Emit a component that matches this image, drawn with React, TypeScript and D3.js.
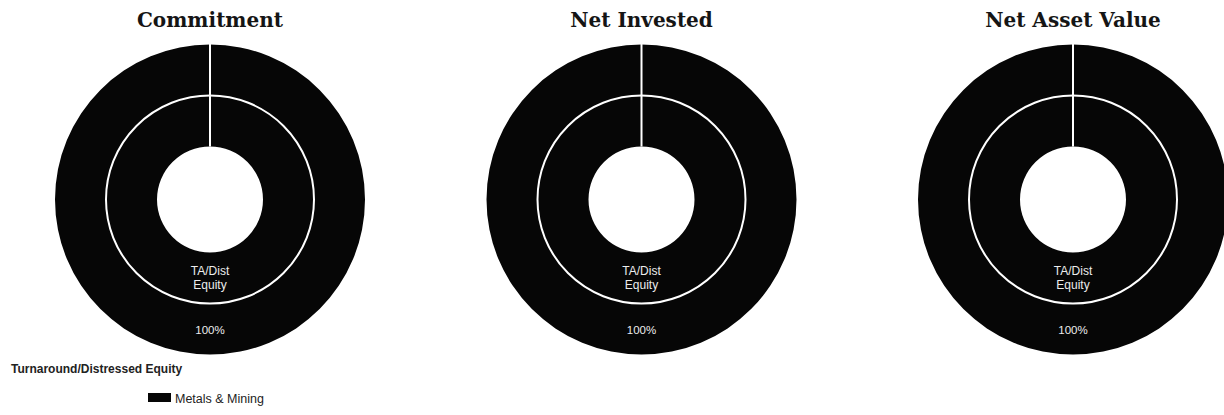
import { useEffect, useRef } from "react";
import * as d3 from "d3";

// panels across the top
const PANELS = ["Commitment", "Net Invested", "Net Asset Value"];

// inner ring: strategy split per panel (%)
const STRATEGIES = ["TA/Dist\nEquity"];
const STRATEGY_SHARE = [[100], [100], [100]];

// outer ring: sector split per panel (%)
const SECTORS = ["Metals & Mining"];
const SECTOR_SHARE = [[100], [100], [100]];

const LEGEND_GROUP = "Turnaround/Distressed Equity";

const W = 1224;
const H = 415;
const CY = 199.5;
const R_HOLE = 53;
const R_MID = 104;
const R_OUT = 155;
const INK = "#060606";

export default function App() {
  const svgRef = useRef<SVGSVGElement | null>(null);

  useEffect(() => {
    const svg = d3.select(svgRef.current);
    svg.selectAll("*").remove();

    const x = d3.scalePoint<string>().domain(PANELS).range([210, 1073]);
    const pie = d3.pie<number>().sort(null).value((d) => d);
    const innerArc = d3.arc<d3.PieArcDatum<number>>().innerRadius(R_HOLE).outerRadius(R_MID);
    const outerArc = d3.arc<d3.PieArcDatum<number>>().innerRadius(R_MID).outerRadius(R_OUT);

    PANELS.forEach((name, i) => {
      const g = svg.append("g").attr("transform", `translate(${x(name)},${CY})`);

      svg
        .append("text")
        .attr("x", x(name)!)
        .attr("y", 27)
        .attr("text-anchor", "middle")
        .attr("font-family", "DejaVu Serif")
        .attr("font-weight", "bold")
        .attr("font-size", 20)
        .attr("fill", "#151515")
        .text(name);

      const outer = pie(SECTOR_SHARE[i]);
      const inner = pie(STRATEGY_SHARE[i]);

      g.selectAll("path.outer")
        .data(outer)
        .join("path")
        .attr("class", "outer")
        .attr("d", outerArc)
        .attr("fill", INK);

      g.selectAll("path.inner")
        .data(inner)
        .join("path")
        .attr("class", "inner")
        .attr("d", innerArc)
        .attr("fill", INK);

      // ring separator
      g.append("circle")
        .attr("r", R_MID)
        .attr("fill", "none")
        .attr("stroke", "#fff")
        .attr("stroke-width", 2);

      // slice boundary at start angle
      inner.forEach((d) => {
        const a = d.startAngle;
        g.append("line")
          .attr("x1", Math.sin(a) * R_HOLE)
          .attr("y1", -Math.cos(a) * R_HOLE)
          .attr("x2", Math.sin(a) * (R_OUT + 1))
          .attr("y2", -Math.cos(a) * (R_OUT + 1))
          .attr("stroke", "#fff")
          .attr("stroke-width", 2);
      });

      inner.forEach((d, j) => {
        const [cx, cy] = innerArc.centroid(d);
        const lines = STRATEGIES[j].split("\n");
        const t = g
          .append("text")
          .attr("x", cx)
          .attr("y", cy - (lines.length - 1) * 7 + 4)
          .attr("text-anchor", "middle")
          .attr("font-family", "Liberation Sans, Arial, sans-serif")
          .attr("font-size", 12)
          .attr("fill", "#ececec");
        lines.forEach((l, k) =>
          t.append("tspan").attr("x", cx).attr("dy", k === 0 ? 0 : 14).text(l)
        );
      });

      outer.forEach((d) => {
        const [cx, cy] = outerArc.centroid(d);
        g.append("text")
          .attr("x", cx)
          .attr("y", cy + 5)
          .attr("text-anchor", "middle")
          .attr("font-family", "Liberation Sans, Arial, sans-serif")
          .attr("font-size", 11.5)
          .attr("fill", "#ececec")
          .text(`${d.data}%`);
      });
    });

    // legend
    svg
      .append("text")
      .attr("x", 11)
      .attr("y", 373)
      .attr("font-family", "Liberation Sans, Arial, sans-serif")
      .attr("font-weight", "bold")
      .attr("font-size", 12)
      .attr("fill", "#222")
      .text(LEGEND_GROUP);

    const leg = svg
      .selectAll("g.leg")
      .data(SECTORS)
      .join("g")
      .attr("class", "leg")
      .attr("transform", (_, i) => `translate(148,${393 + i * 16})`);
    leg.append("rect").attr("width", 23).attr("height", 9).attr("fill", INK);
    leg
      .append("text")
      .attr("x", 27)
      .attr("y", 9.5)
      .attr("font-family", "Liberation Sans, Arial, sans-serif")
      .attr("font-size", 12.5)
      .attr("fill", "#222")
      .text((d) => d);
  }, []);

  return (
    <div style={{ position: "absolute", left: 0, top: 0 }}>
      <svg ref={svgRef} width={W} height={H} style={{ display: "block", background: "#fff" }} />
    </div>
  );
}
